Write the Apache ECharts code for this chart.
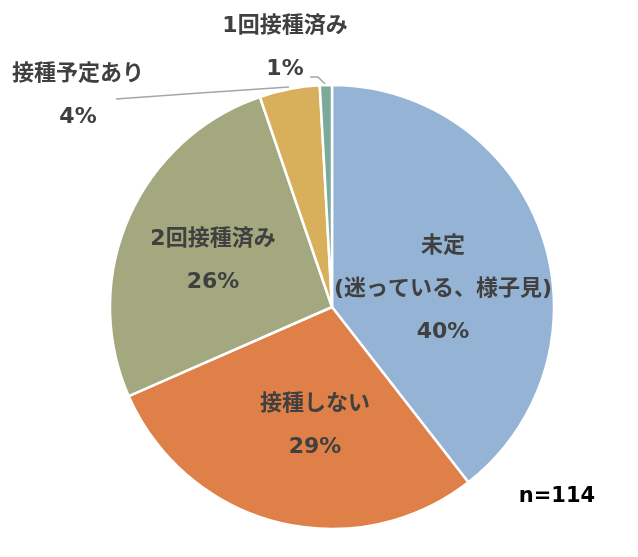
<!DOCTYPE html>
<html><head><meta charset="utf-8">
<script src="https://cdn.jsdelivr.net/npm/echarts@6/dist/echarts.min.js"></script>
<style>html,body{margin:0;padding:0;background:#fff}#c{width:638px;height:557px}</style>
</head><body><div id="c"></div>
<script>
const categories = ['未定\n(迷っている、様子見)', '接種しない', '2回接種済み', '接種予定あり', '1回接種済み'];
const counts = [45, 33, 30, 5, 1];
const colors = ['#95B3D5', '#DF8048', '#A3A87F', '#D8B05C', '#7BA99A'];
const noteText = 'n=114';

const FONT = '"DejaVu Sans", "Noto Sans CJK JP", sans-serif';
// label anchor positions (centers), and leader lines for outside labels
const labelPos = [[443, 289], [315, 426], [213, 261], [78, 96], [285, 48]];
const leaderLines = [null, null, null, [[289, 87], [200, 93], [116, 99]], [[326, 85], [318, 77], [310, 77]]];

const chart = echarts.init(document.getElementById('c'));
chart.setOption({
  animation: false,
  backgroundColor: '#fff',
  series: [{
    type: 'pie',
    center: [332, 307],
    radius: 222,
    startAngle: 90,
    clockwise: true,
    percentPrecision: 0,
    avoidLabelOverlap: false,
    itemStyle: { borderColor: '#fff', borderWidth: 2.5 },
    label: {
      formatter: '{b}\n{d}%',
      fontFamily: FONT,
      fontWeight: 'bold',
      fontSize: 22,
      lineHeight: 43,
      color: '#404040',
      align: 'center'
    },
    labelLine: { show: true, lineStyle: { color: '#A6A6A6', width: 1.5 }, length: 10, length2: 10 },
    labelLayout: function (p) {
      const i = p.dataIndex;
      const r = { x: labelPos[i][0], y: labelPos[i][1], align: 'center', verticalAlign: 'middle' };
      if (leaderLines[i]) r.labelLinePoints = leaderLines[i];
      return r;
    },
    data: categories.map((c, i) => ({
      name: c,
      value: counts[i],
      itemStyle: { color: colors[i] },
      label: { position: i < 3 ? 'inside' : 'outside' },
      labelLine: { show: i >= 3 }
    }))
  }],
  graphic: [{
    type: 'text',
    x: 557, y: 497,
    style: {
      text: noteText,
      font: 'bold 21px ' + FONT,
      fill: '#000',
      textAlign: 'center',
      textVerticalAlign: 'middle'
    }
  }]
});
</script></body></html>
